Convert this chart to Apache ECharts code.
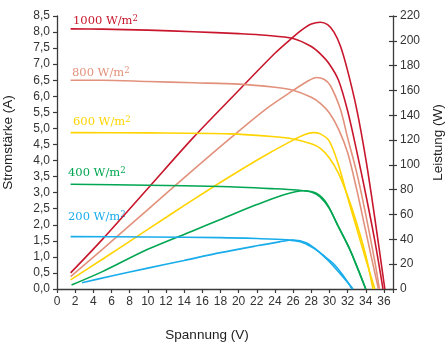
<!DOCTYPE html>
<html>
<head>
<meta charset="utf-8">
<script src="https://cdn.jsdelivr.net/npm/echarts@6/dist/echarts.min.js"></script>
<style>
  html, body { margin: 0; padding: 0; background: #fff; }
  #chart { width: 447px; height: 346px; }
</style>
</head>
<body>
<div id="chart"></div>
<script>
// Einstrahlung (W/m2) und Farben
var irradiance = ['1000', '800', '600', '400', '200'];
var colors = ['#c8162c', '#e2927c', '#ffd400', '#00a651', '#18aceb'];

// Strom-Spannung [V, A]
var current1000 = [[1.5,8.1],[5,8.09],[10,8.06],[15,8.01],[20,7.95],[23,7.9],[26,7.8],[28,7.55],[29,7.32],[30,7.0],[31,6.5],[32,5.55],[33,4.3],[34,2.95],[35,1.5],[35.9,0]];
var current800 = [[1.5,6.5],[5,6.5],[10,6.46],[15,6.42],[20,6.38],[24,6.28],[26,6.19],[28,5.97],[29,5.78],[30,5.48],[31,4.98],[32,4.25],[33,3.1],[34,1.8],[35,0.5],[35.4,0]];
var current600 = [[1.5,4.87],[10,4.86],[19,4.83],[24,4.74],[26,4.67],[28,4.52],[29,4.38],[30,4.08],[31,3.6],[32,2.9],[33,2.05],[34,1.05],[34.8,0]];
var current400 = [[1.5,3.26],[10,3.23],[18,3.19],[24,3.12],[26.4,3.08],[28,3.02],[29,2.86],[30,2.5],[31,1.93],[32,1.38],[33,0.72],[34,0]];
var current200 = [[1.5,1.63],[10,1.62],[18,1.6],[22,1.57],[25.3,1.53],[26.8,1.47],[27.7,1.36],[28.6,1.21],[29.5,1.01],[30.4,0.8],[31.3,0.5],[32.1,0.18],[32.5,0]];

// Leistung-Spannung [V, W]
var power1000 = [[1.5,13],[5,40],[10,81],[15,122],[20,160],[24,190],[26,203],[27,209],[28,213.5],[29,215],[29.8,213],[30.5,207],[31.2,196],[32,176],[33,145],[34,105],[35,57],[36.1,0]];
var power800 = [[1.5,10],[5,32],[10,64],[15,96],[19,121],[23,145],[26,160],[27.5,167],[28.6,170.5],[29.4,169],[30.1,164],[31.2,145],[32,122],[33,94],[34,60],[35,22],[35.5,0]];
var power600 = [[1.5,7.3],[5,24],[10,48],[15,72],[19,90.5],[23,108],[26,120],[27.3,124.5],[28.2,126],[29,125],[30,119],[31,100],[32,74],[33,49],[34,24],[35,0]];
var power400 = [[1.6,3.2],[5,14],[10,32],[15,47],[18,56],[22,68],[25,76],[27.1,79.2],[28.6,77],[29.7,69],[30.8,53],[32.3,31],[33,18.5],[34,0]];
var power200 = [[2.75,5],[6,10.5],[10,16.8],[14,23],[18,29.3],[22,34.8],[24.5,38],[26,39.5],[27.5,37],[29,29],[30,22],[30.8,15.5],[31.8,7],[32.6,0]];

var currents = [current1000, current800, current600, current400, current200];
var powers = [power1000, power800, power600, power400, power200];
var labelPos = [[73, 21], [72, 73], [73, 122], [68, 173], [68, 217]];   // Beschriftung der Kurven

var sansFont = "'Liberation Sans', Arial, sans-serif";
var axisColor = '#3a3a3a';

var chart = echarts.init(document.getElementById('chart'), null, {renderer: 'canvas'});

var series = [];
for (var i = 0; i < irradiance.length; i++) {
    series.push({
        type: 'line', yAxisIndex: 0, data: currents[i], smooth: 0.3,
        symbol: 'none', lineStyle: {color: colors[i], width: 1.6}, z: 3
    });
    series.push({
        type: 'line', yAxisIndex: 1, data: powers[i], smooth: 0.3,
        symbol: 'none', lineStyle: {color: colors[i], width: 1.6}, z: 3
    });
}

var graphics = [];
for (var j = 0; j < irradiance.length; j++) {
    graphics.push({
        type: 'text', x: labelPos[j][0], y: labelPos[j][1],
        style: {
            text: '{a|' + irradiance[j] + ' W/m}{s|2}',
            fill: colors[j],
            verticalAlign: 'middle',
            rich: {
                a: {fill: colors[j], fontFamily: "'DejaVu Serif', serif", fontSize: 11.5, lineHeight: 14},
                s: {fill: colors[j], fontFamily: "'DejaVu Serif', serif", fontSize: 8.5, verticalAlign: 'top', lineHeight: 14, padding: [0, 0, 5, 0]}
            }
        }
    });
}

var yAxisBase = {
    type: 'value',
    splitLine: {show: false},
    axisLine: {show: true, lineStyle: {color: axisColor, width: 1.3}},
    axisTick: {show: true, length: 4, lineStyle: {color: axisColor, width: 1.2}},
    axisLabel: {color: '#333', fontFamily: sansFont, fontSize: 12, margin: 7},
    nameLocation: 'middle',
    nameTextStyle: {color: '#222', fontFamily: sansFont, fontSize: 13.5, padding: [0, 0, 0, 20]}
};

chart.setOption({
    animation: false,
    grid: {left: 57, right: 54, top: 16, bottom: 57, outerBoundsMode: 'none'},
    graphic: graphics,
    xAxis: {
        type: 'value',
        min: 0, max: 37, interval: 2,
        name: 'Spannung (V)',
        nameLocation: 'middle',
        nameGap: 39,
        nameTextStyle: {color: '#222', fontFamily: sansFont, fontSize: 13.5, padding: [0, 36, 0, 0]},
        splitLine: {show: false},
        axisLine: {lineStyle: {color: axisColor, width: 1.3}},
        axisTick: {length: 4, lineStyle: {color: axisColor, width: 1.2}},
        axisLabel: {
            color: '#333', fontFamily: sansFont, fontSize: 12, margin: 7,
            formatter: function (v) { return v > 36 ? '' : String(v); }
        }
    },
    yAxis: [
        Object.assign({}, yAxisBase, {
            position: 'left', min: 0, max: 8.5, interval: 0.5,
            name: 'Stromstärke (A)', nameGap: 42,
            axisLabel: Object.assign({}, yAxisBase.axisLabel, {
                formatter: function (v) { return v.toFixed(1).replace('.', ','); }
            })
        }),
        Object.assign({}, yAxisBase, {
            position: 'right', min: 0, max: 220, interval: 20,
            name: 'Leistung (W)', nameGap: 38
        }),
        {   // Striche nach innen an der rechten Achse
            type: 'value', position: 'right', min: 0, max: 220, interval: 20,
            splitLine: {show: false}, axisLine: {show: false}, axisLabel: {show: false},
            axisTick: {show: true, inside: true, length: 4, lineStyle: {color: axisColor, width: 1.2}}
        }
    ],
    series: series
});
</script>
</body>
</html>
